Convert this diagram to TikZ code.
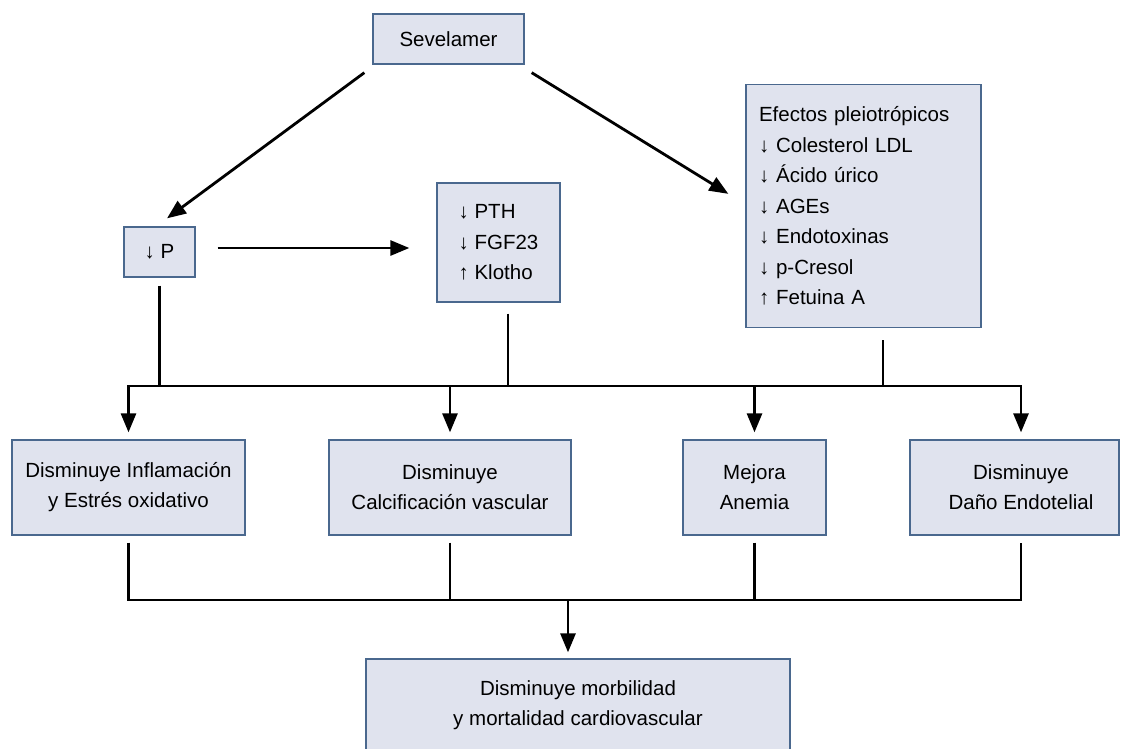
\documentclass[tikz,border=0pt]{standalone}
\usepackage{fontspec}
\setmainfont{Liberation Sans}
\usetikzlibrary{arrows.meta,calc}
\definecolor{boxfill}{RGB}{224,227,238}
\definecolor{boxline}{RGB}{74,104,142}
\begin{document}
\begin{tikzpicture}[x=1pt,y=-1pt,
  box/.style={draw=boxline, line width=1.3pt, fill=boxfill, inner sep=0pt,
    font=\fontsize{20.5}{30}\selectfont, align=center},
  txt/.style={inner sep=0pt, font=\fontsize{20.5}{30}\selectfont, align=center},
  conn/.style={line width=2.8pt, draw=black},
  arr/.style={conn, -{Triangle[length=19pt,width=15pt]}}]
\useasboundingbox (0,0) rectangle (1121,748);
% nodes
\node[box, minimum width=151pt, minimum height=50pt] (sev) at (448.5,39) {Sevelamer};
\node[box, minimum width=71pt, minimum height=50pt] (p) at (159.5,252) {↓ P};
\node[box, minimum width=123pt, minimum height=119pt, align=left,
  font=\fontsize{20.5}{30.5}\selectfont] (pth) at (498.5,242.5)
  {↓ PTH\\↓ FGF23\\↑ Klotho};
\node[box, text width=209pt, inner xsep=13pt, minimum height=243pt, align=left,
  font=\fontsize{20.5}{30.5}\selectfont] (eff) at (863.5,206)
  {Efectos pleiotrópicos\\↓ Colesterol LDL\\↓ Ácido úrico\\↓ AGEs\\↓ Endotoxinas\\↓ p-Cresol\\↑ Fetuina A};
\node[box, minimum width=233pt, minimum height=95pt] (b1) at (128.5,487.5)
  {Disminuye Inflamación\\y Estrés oxidativo};
\node[box, minimum width=242pt, minimum height=95pt] (b2) at (450,487.5)
  {Disminuye\\Calcificación vascular};
\node[box, minimum width=143pt, minimum height=95pt] (b3) at (754.5,487.5)
  {Mejora\\Anemia};
\node[box, minimum width=209pt, minimum height=95pt] (b4) at (1014.5,487.5) {};
\node[txt] (b4t) at (1021,487.5) {Disminuye\\Daño Endotelial};
\node[box, minimum width=424pt, minimum height=92pt] (fin) at (578,705)
  {Disminuye morbilidad\\y mortalidad cardiovascular};
% junction levels
\coordinate (j1) at (0,386);
\coordinate (j2) at (0,600);
% top arrows
\draw[arr] ($(sev.south west)+(-8,8)$) -- ($(p.north)+(7.5,-8)$);
\draw[arr] ($(sev.south east)+(7,8)$) -- ($(eff.north west)+(-17,110)$);
\draw[arr] ($(p.east)+(22,-4)$) -- ($(pth.west)+(-27,5.5)$);
% tree 1
\draw[conn] ($(p.south)+(0,8)$) -- (p.south |- j1);
\draw[conn] ($(pth.south)+(9.5,11)$) -- ($(pth.south |- j1)+(9.5,0)$);
\draw[conn] ($(eff.south)+(19.5,12)$) -- ($(eff.south |- j1)+(19.5,0)$);
\draw[arr] (b4t |- j1) -| ($(b1.north)+(0,-7)$);
\draw[arr] (b1.north |- j1) -| ($(b4t |- b4.north)+(0,-7)$);
\draw[arr] (b2.north |- j1) -- ($(b2.north)+(0,-7)$);
\draw[arr] (b3.north |- j1) -- ($(b3.north)+(0,-7)$);
% tree 2
\draw[conn] ($(b1.south)+(0,7)$) |- (b4t |- j2) -- ($(b4t |- b4.south)+(0,7)$);
\draw[conn] ($(b2.south)+(0,7)$) -- (b2.south |- j2);
\draw[conn] ($(b3.south)+(0,7)$) -- (b3.south |- j2);
\draw[arr] ($(fin.north |- j2)+(-10,0)$) -- ($(fin.north)+(-10,-6)$);
\end{tikzpicture}
\end{document}
